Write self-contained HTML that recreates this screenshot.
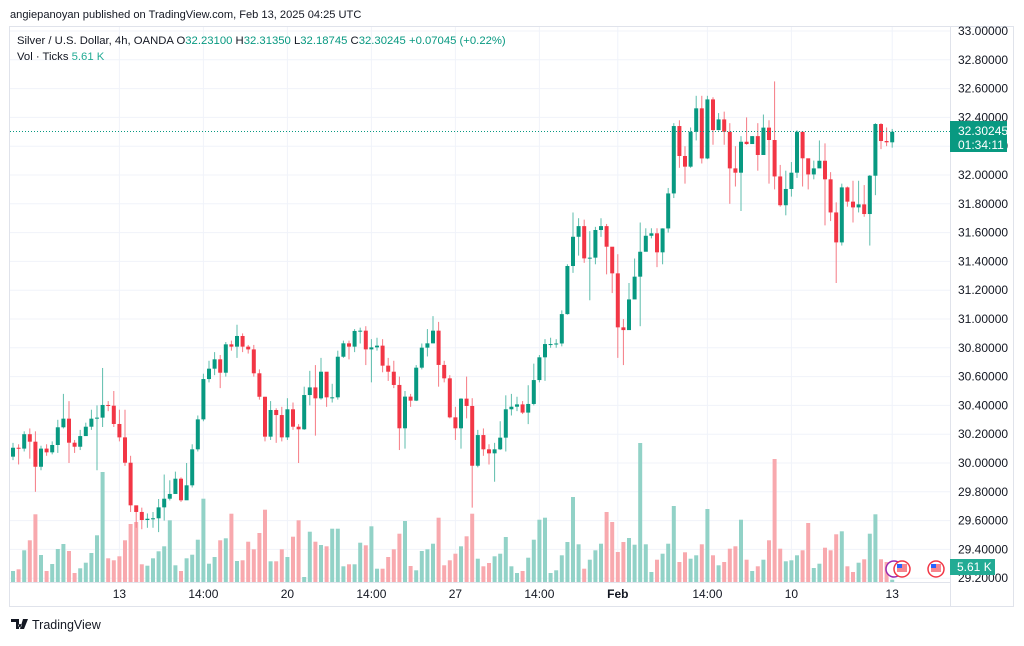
<!DOCTYPE html>
<html><head><meta charset="utf-8">
<style>
body{margin:0;width:1024px;height:641px;background:#fff;overflow:hidden;font-family:"Liberation Sans",sans-serif;}
svg text{font-family:"Liberation Sans",sans-serif;}
</style></head>
<body>
<svg id="chart" width="1024" height="641" viewBox="0 0 1024 641" xmlns="http://www.w3.org/2000/svg">
<text x="10" y="18" font-size="11.1" fill="#131722">angiepanoyan published on TradingView.com, Feb 13, 2025 04:25 UTC</text>
<rect x="9.5" y="26.5" width="1004" height="580" fill="none" stroke="#e0e3eb"/>
<g id="grid"></g>
<g id="vols"></g>
<g id="candles"></g>
<line id="lastLine" x1="10" x2="950" stroke="#089981" stroke-dasharray="1,2" stroke-width="1"/>
<g font-size="11.3">
<text x="17" y="44" fill="#131722">Silver / U.S. Dollar, 4h, OANDA <tspan fill="#131722">O</tspan><tspan fill="#089981">32.23100</tspan> <tspan fill="#131722">H</tspan><tspan fill="#089981">32.31350</tspan> <tspan fill="#131722">L</tspan><tspan fill="#089981">32.18745</tspan> <tspan fill="#131722">C</tspan><tspan fill="#089981">32.30245</tspan> <tspan fill="#089981">+0.07045 (+0.22%)</tspan></text>
<text x="17" y="60" fill="#131722">Vol · Ticks <tspan fill="#22ab94">5.61 K</tspan></text>
</g>
<g id="yaxis"></g>
<g id="xaxis"></g>
<g>
<rect id="lastBox" x="950" y="121" width="57" height="31" fill="#089981"/>
<text x="958" y="135" font-size="12" fill="#fff">32.30245</text>
<text x="958" y="149" font-size="12" fill="#fff">01:34:11</text>
</g>
<g>
<rect x="950" y="559" width="45" height="16" fill="#22ab94"/>
<text x="957" y="571" font-size="12" fill="#fff">5.61 K</text>
</g>
<g>
<circle cx="894" cy="569" r="8" fill="#fff" stroke="#9c27b0" stroke-width="1.5"/>
<circle cx="902" cy="569" r="8" fill="#fff" stroke="#f23645" stroke-width="1.5"/>
<rect x="897" y="564" width="10" height="8" fill="#f23645" opacity="0.6"/><rect x="897" y="564" width="5" height="4" fill="#2962ff"/>
<circle cx="936" cy="569" r="8" fill="#fff" stroke="#f23645" stroke-width="1.5"/>
<rect x="931" y="564" width="10" height="8" fill="#f23645" opacity="0.6"/><rect x="931" y="564" width="5" height="4" fill="#2962ff"/>
</g>
<g>
<path d="M11 619h8v10h-3v-7h-5z M20 624a1.6 1.6 0 1 0 .01 0z M23 619h5l-4 10h-4z" fill="#131722"/>
<text x="32" y="629" font-size="12.5" fill="#131722">TradingView</text>
</g>
</svg>
<script>
const closes=[30.106,30.10,30.20,30.148,29.974,30.10,30.074,30.125,30.248,30.308,
30.141,30.113,30.187,30.252,30.308,30.315,30.403,30.398,30.271,30.178,
30.002,29.706,29.66,29.604,29.613,29.616,29.692,29.752,29.785,29.891,
29.741,29.845,30.095,30.303,30.583,30.655,30.72,30.627,30.824,30.808,
30.882,30.808,30.789,30.623,30.46,30.183,30.368,30.333,30.178,30.373,
30.252,30.234,30.472,30.525,30.449,30.634,30.456,30.456,30.738,
30.831,30.808,30.917,30.919,30.789,30.803,30.815,30.676,30.634,30.542,
30.241,30.461,30.433,30.662,30.801,30.831,30.919,30.681,30.588,30.317,
30.241,30.447,30.396,29.981,30.194,30.095,30.067,30.095,30.176,30.373,
30.391,30.407,30.35,30.41,30.576,30.734,30.826,30.826,30.83,
31.034,31.368,31.571,31.645,31.421,31.426,31.618,31.645,31.502,31.317,
30.942,30.923,31.136,31.294,31.467,31.578,31.595,31.463,31.629,31.872,
32.34,32.132,32.058,32.30,32.463,32.115,32.525,32.312,32.386,32.30,
32.046,32.016,32.231,32.215,32.27,32.139,32.329,32.243,31.99,31.79,
31.903,32.016,32.30,32.116,32.004,32.046,32.099,31.97,31.74,31.532,
31.914,31.815,31.775,31.796,31.729,31.995,32.354,32.236,32.227,32.30];
const firstOpen=30.044;
const highs=[30.14,30.13,30.22,30.24,30.22,30.12,30.13,30.15,30.30,30.48,
30.43,30.16,30.23,30.28,30.37,30.40,30.66,30.43,30.50,30.37,
30.37,30.05,29.70,29.69,29.65,29.66,29.75,29.92,29.88,29.94,
29.90,30.00,30.13,30.33,30.62,30.71,30.77,30.75,30.84,30.85,
30.96,30.90,30.82,30.82,30.65,30.46,30.43,30.38,30.39,30.45,
30.42,30.27,30.53,30.64,30.68,30.73,30.63,30.55,30.78,
30.85,30.85,30.93,30.94,30.95,30.86,30.87,30.86,30.73,30.71,
30.60,30.50,30.48,30.68,30.83,30.93,31.02,30.98,30.71,30.61,
30.39,30.45,30.60,30.45,30.23,30.24,30.13,30.14,30.29,30.47,
30.48,30.46,30.43,30.54,30.69,30.75,30.86,30.87,30.86,
31.06,31.38,31.74,31.70,31.69,31.61,31.64,31.70,31.66,31.50,
31.45,31.00,31.25,31.42,31.67,31.63,31.63,31.63,31.63,31.91,
32.36,32.38,32.20,32.33,32.55,32.55,32.55,32.54,32.43,32.44,
32.36,32.20,32.27,32.40,32.27,32.36,32.42,32.38,32.65,32.07,
32.03,32.09,32.31,32.25,32.10,32.10,32.24,32.22,32.02,31.81,
31.94,31.92,31.96,31.96,31.93,32.00,32.36,32.36,32.33,32.32];
const lows=[30.02,29.99,30.08,30.03,29.80,29.95,30.05,30.06,30.07,30.24,
30.00,30.07,30.09,30.20,30.23,29.95,30.25,30.36,30.25,30.15,
29.98,29.66,29.55,29.54,29.55,29.55,29.52,29.60,29.74,29.84,
29.73,29.82,29.83,30.08,30.29,30.56,30.61,30.52,30.60,30.78,
30.73,30.77,30.76,30.60,30.44,30.15,30.16,30.14,30.15,30.16,
30.23,30.00,30.23,30.40,30.19,30.44,30.39,30.42,30.44,
30.73,30.72,30.77,30.83,30.68,30.56,30.78,30.63,30.57,30.52,
30.09,30.10,30.39,30.43,30.65,30.74,30.83,30.53,30.56,30.31,
30.16,30.10,30.31,29.69,29.97,30.05,29.99,29.87,30.09,30.08,
30.33,30.36,30.34,30.27,30.40,30.56,30.57,30.80,30.80,
30.81,31.03,31.32,31.44,31.39,31.13,31.38,31.57,31.31,31.18,
30.73,30.68,30.93,31.14,30.95,31.47,31.56,31.36,31.38,31.60,
31.84,32.05,31.94,32.05,32.24,32.08,32.11,32.21,32.31,32.21,
31.80,31.92,31.75,32.21,32.23,32.03,32.30,31.94,31.90,31.78,
31.72,31.85,31.98,31.92,31.90,31.97,32.05,31.65,31.68,31.25,
31.51,31.78,31.67,31.74,31.71,31.51,31.86,32.18,32.20,32.19];
const volumes=[11,12.7,31.7,41.7,67.7,27,11,18,33,38,
31,9,13.7,19.3,29,46.7,110,23.7,21.7,25.7,
41.7,58,60,17.7,16.3,23.7,30.7,35.7,61.7,16.7,
11,23.7,27.3,42.3,83.3,18.3,25,41.7,43.7,68.3,
21,21.7,40.3,32.7,49,72.3,20.7,20.7,32.7,25,
45.3,61.7,5,50.3,40.3,37,35.7,53.3,53.3,
15.7,17.7,17.7,39.3,36.7,55.7,13.3,13.3,25,32.7,
48.3,61,16,11.7,31,32.7,38.3,64.3,16.7,21.7,
28.3,35.7,45.7,68.3,23.3,15.7,19,25.7,28.3,45,
15.7,9,11,24.3,42.3,62.3,64.3,9,11.7,
26.7,40,85,37.7,13.3,22.3,31.7,38.3,70,60,
30,40,44,37.3,139,37.7,10,22.3,28.3,38.3,
76,20,29.7,23.3,26.7,37.7,73,26.7,16.7,20,
33.3,35.7,62.3,22.3,11,15.7,
22.3,41.7,123,33.3,20.7,21.7,26.7,31.7,59,14,
18.3,34.3,31.7,47.7,50.7,15.7,10,19.3,22.7,48.3,
67.7,22.7,20,2.3];
const priceTicks=[33.0,32.8,32.6,32.4,32.2,32.0,31.8,31.6,31.4,31.2,31.0,30.8,30.6,30.4,30.2,30.0,29.8,29.6,29.4,29.2];
const timeLabels=["13","14:00","20","14:00","27","14:00","Feb","14:00","10","13"];
const timeLabelIdx=[19,34,49,64,79,94,108,124,139,157];
const lastPrice=32.30245;

const NS="http://www.w3.org/2000/svg";
const yP=p=>31+(33-p)*144;
const xI=i=>13+5.6*i;
const VOL_BASE=582, VOL_K=1;
const yV=v=>VOL_BASE-v*VOL_K;
function mk(tag,attrs,parent){const e=document.createElementNS(NS,tag);for(const k in attrs)e.setAttribute(k,attrs[k]);parent.appendChild(e);return e;}
const grid=document.getElementById('grid'),ya=document.getElementById('yaxis'),xa=document.getElementById('xaxis');
priceTicks.forEach(p=>{
  const y=yP(p);
  if(y<582){const l=mk('line',{x1:10,x2:950,y1:y,y2:y,stroke:'#f0f3fa'},grid);
  
  }
  const t=mk('text',{x:958,y:y+4,'font-size':12,fill:'#131722'},ya);
  
  
  t.textContent=p.toFixed(5);
});
mk('rect',{x:950,y:582,width:63,height:24,fill:'#fff'},ya);
timeLabels.forEach((s,k)=>{
  const x=xI(timeLabelIdx[k]);
  const l=mk('line',{x1:x,x2:x,y1:27,y2:582,stroke:'#f0f3fa'},grid);
  
  
  const t=mk('text',{x:x,y:598,'font-size':12,fill:'#131722','text-anchor':'middle',...(s==='Feb'?{'font-weight':'bold'}:{})},xa);
  
  
  t.textContent=s;
});
const ax=mk('line',{x1:10,x2:950,y1:582.5,y2:582.5,stroke:'#e0e3eb'},xa);


const ax2=mk('line',{x1:950.5,x2:950.5,y1:27,y2:607,stroke:'#e0e3eb'},ya);


const cg=document.getElementById('candles'),vg=document.getElementById('vols');
closes.forEach((c,i)=>{
  const o=i===0?firstOpen:closes[i-1];
  const up=c>=o, col=up?'#089981':'#f23645';
  const x=xI(i);
  const v=mk('rect',{x:x-2,y:yV(volumes[i]),width:4,height:volumes[i]*VOL_K,fill:up?'#92d2c7':'#f8a9ae'},vg);
  
  
  const w=mk('line',{x1:x,x2:x,y1:yP(highs[i]),y2:yP(lows[i]),stroke:up?'#5dbdac':'#f67a84','stroke-width':1},cg);
  
  
  const top=yP(Math.max(o,c)),bot=yP(Math.min(o,c));
  const b=mk('rect',{x:x-2,y:top,width:4,height:Math.max(1,bot-top),fill:col},cg);
  
  
});
const ly=yP(lastPrice);
const ll=document.getElementById('lastLine');ll.setAttribute('y1',ly);ll.setAttribute('y2',ly);
</script>
</body></html>
